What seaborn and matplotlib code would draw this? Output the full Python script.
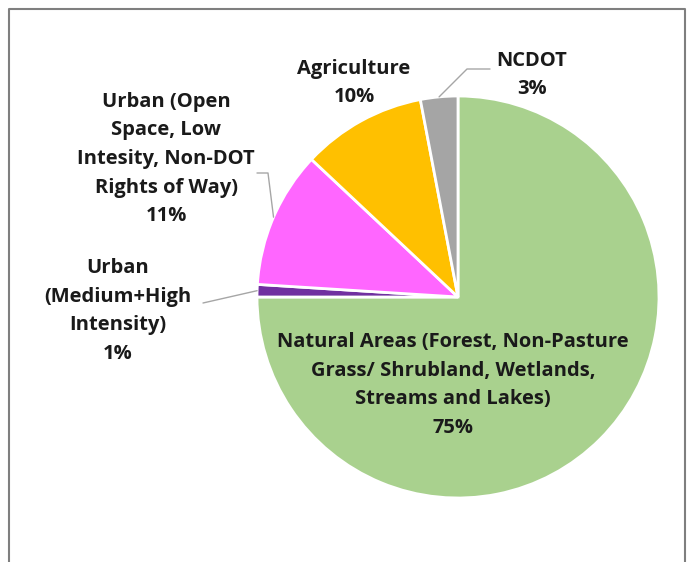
import numpy as np
import matplotlib
matplotlib.use('Agg')
import matplotlib.pyplot as plt
import seaborn as sns

# land cover shares, in the order drawn (clockwise from 12 o'clock)
categories = ['Natural Areas (Forest, Non-Pasture\nGrass/ Shrubland, Wetlands,\nStreams and Lakes)',
              'Urban\n(Medium+High\nIntensity)',
              'Urban (Open\nSpace, Low\nIntesity, Non-DOT\nRights of Way)',
              'Agriculture',
              'NCDOT']
shares = [75, 1, 11, 10, 3]
colors = ['#A9D18E', '#7030A0', '#FF66FF', '#FFC000', '#A5A5A5']

sns.set_theme(style='white')
plt.rcParams['font.family'] = ['Open Sans', 'DejaVu Sans']

W, H = 692, 562
fig = plt.figure(figsize=(W / 100, H / 100), dpi=100)
ax = fig.add_axes([0, 0, 1, 1])

# pie centre / radius in pixels
cx, cy, rad = 458, 297, 201


def px(x, y):
    return (x - cx) / rad, (cy - y) / rad


wedges, _ = ax.pie(shares, colors=colors, startangle=90, counterclock=False,
                   radius=1, center=(0, 0), frame=True,
                   wedgeprops=dict(edgecolor='white', linewidth=2))
ax.set_xlim(-cx / rad, (W - cx) / rad)
ax.set_ylim(-(H - cy) / rad, cy / rad)
ax.set_aspect('auto')
ax.axis('off')

# label centres (pixels)
label_pos = [(453, 385), (118, 311), (166, 159), (354, 83), (532, 75)]
for cat, val, (lx, ly) in zip(categories, shares, label_pos):
    x, y = px(lx, ly)
    ax.text(x, y, cat + '\n' + str(val) + '%', ha='center', va='center',
            fontsize=14.5, fontweight='bold', color='#1A1A1A', linespacing=1.58)

# leader lines
def mid_point(w):
    a = np.deg2rad((w.theta1 + w.theta2) / 2)
    return np.cos(a), np.sin(a)

leaders = {1: [(203, 303)],
           2: [(268, 173), (257, 173)],
           4: [(467, 69), (490, 69)]}
for i, pts in leaders.items():
    x0, y0 = mid_point(wedges[i])
    xs = [x0] + [px(*p)[0] for p in pts]
    ys = [y0] + [px(*p)[1] for p in pts]
    ax.plot(xs, ys, color='#A6A6A6', lw=1)

# outer frame (left, top, right)
fx = [9 / W, 9 / W, 685 / W, 685 / W]
fy = [0, 1 - 9 / H, 1 - 9 / H, 0]
fig.add_artist(plt.Line2D(fx, fy, color='#7F7F7F', lw=1.5, transform=fig.transFigure))

fig.savefig('out.png', dpi=100, facecolor='white')
